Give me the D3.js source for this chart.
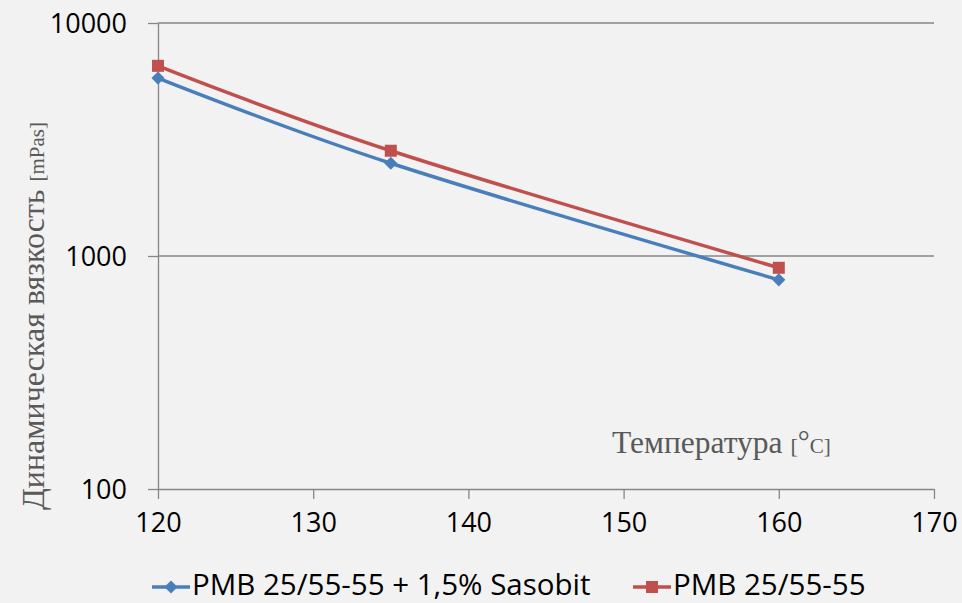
<!DOCTYPE html>
<html>
<head>
<meta charset="utf-8">
<script src="https://cdn.jsdelivr.net/npm/d3@7"></script>
<style>
  body { margin: 0; background: #f2f2f2; }
  svg { display: block; }
</style>
</head>
<body>
<svg id="chart" width="962" height="603"></svg>
<script>
// data
var temps = [120, 135, 160];
var sasobit = [5800, 2500, 790];
var pmb = [6550, 2830, 890];
var seriesNames = ["PMB 25/55-55 + 1,5% Sasobit", "PMB 25/55-55"];
var xTicks = [120, 130, 140, 150, 160, 170];
var yTicks = [100, 1000, 10000];

var svg = d3.select("#chart"),
    margin = { top: 23, right: 28, bottom: 114, left: 158 },
    width = 962 - margin.left - margin.right,
    height = 603 - margin.top - margin.bottom;

svg.append("rect").attr("width", 962).attr("height", 603).attr("fill", "#f2f2f2");

var g = svg.append("g").attr("transform", "translate(" + margin.left + "," + margin.top + ")");

var x = d3.scaleLinear().domain([120, 170]).range([0, width]);
var y = d3.scaleLog().domain([100, 10000]).range([height, 0]);

var axisColor = "#868686";
var tickFont = "'Open Sans', sans-serif";

// horizontal gridlines
g.selectAll(".grid")
    .data(yTicks.slice(1))
    .enter().append("line")
    .attr("x1", 0).attr("x2", width)
    .attr("y1", function (d) { return y(d); })
    .attr("y2", function (d) { return y(d); })
    .attr("stroke", axisColor).attr("stroke-width", 1.3);

// x axis
var xAxis = g.append("g")
    .attr("transform", "translate(0," + height + ")")
    .call(d3.axisBottom(x).tickValues(xTicks).tickSize(10).tickSizeOuter(0).tickPadding(14).tickFormat(d3.format("d")));

// y axis
var yAxis = g.append("g")
    .call(d3.axisLeft(y).tickValues(yTicks).tickSize(10).tickSizeOuter(0).tickPadding(21).tickFormat(d3.format("d")));

[xAxis, yAxis].forEach(function (ax) {
    ax.select(".domain").attr("stroke", axisColor).attr("stroke-width", 1.3);
    ax.selectAll(".tick line").attr("stroke", axisColor).attr("stroke-width", 1.3);
    ax.selectAll(".tick text")
        .attr("fill", "#000")
        .style("font-family", tickFont)
        .style("font-size", "27px");
});
xAxis.selectAll(".tick text").attr("dy", "0.71em");
yAxis.selectAll(".tick text").attr("dy", "0.34em");

// lines
var colors = ["#4a7ebb", "#c0504d"];
var allSeries = [sasobit, pmb];

var line = d3.line()
    .x(function (d, i) { return x(temps[i]); })
    .y(function (d) { return y(d); })
    .curve(d3.curveCardinal.tension(0));

allSeries.forEach(function (vals, s) {
    g.append("path")
        .datum(vals)
        .attr("d", line)
        .attr("fill", "none")
        .attr("stroke", colors[s])
        .attr("stroke-width", 3.5);
});

function marker(sel, s, cx, cy) {
    if (s === 0) {
        sel.append("path")
            .attr("d", d3.symbol().type(d3.symbolDiamond2).size(110)())
            .attr("transform", "translate(" + cx + "," + cy + ")")
            .attr("fill", colors[0]);
    } else {
        sel.append("rect")
            .attr("x", cx - 6).attr("y", cy - 6)
            .attr("width", 12).attr("height", 12)
            .attr("fill", colors[1]);
    }
}

allSeries.forEach(function (vals, s) {
    vals.forEach(function (v, i) {
        marker(g, s, x(temps[i]), y(v));
    });
});

// axis titles
var serif = "'Liberation Serif', 'DejaVu Serif', serif";
svg.append("text")
    .attr("transform", "translate(44,510) rotate(-90)")
    .attr("text-anchor", "start")
    .attr("fill", "#595959")
    .style("font-family", serif)
    .style("font-size", "32px")
    .text("Динамическая вязкость ")
    .append("tspan")
    .style("font-size", "21px")
    .text("[mPas]");

var xt = svg.append("text")
    .attr("x", 612).attr("y", 453)
    .attr("fill", "#595959")
    .style("font-family", serif)
    .style("font-size", "31.5px");
xt.append("tspan").text("Температура ");
xt.append("tspan").style("font-size", "22px").text("[");
xt.append("tspan").style("font-size", "30px").attr("dy", "-2").text("°");
xt.append("tspan").style("font-size", "21px").attr("dy", "2").text("C]");

// legend
var legend = svg.append("g");
var legendX = [152, 633];
seriesNames.forEach(function (name, s) {
    var lg = legend.append("g").attr("transform", "translate(" + legendX[s] + ",587)");
    lg.append("line")
        .attr("x1", 0).attr("x2", 38)
        .attr("stroke", colors[s]).attr("stroke-width", 3.5);
    marker(lg, s, 19, 0);
    lg.append("text")
        .attr("x", 40).attr("y", 8)
        .attr("fill", "#000")
        .style("font-family", tickFont)
        .style("font-size", "29.5px")
        .text(name);
});
</script>
</body>
</html>
